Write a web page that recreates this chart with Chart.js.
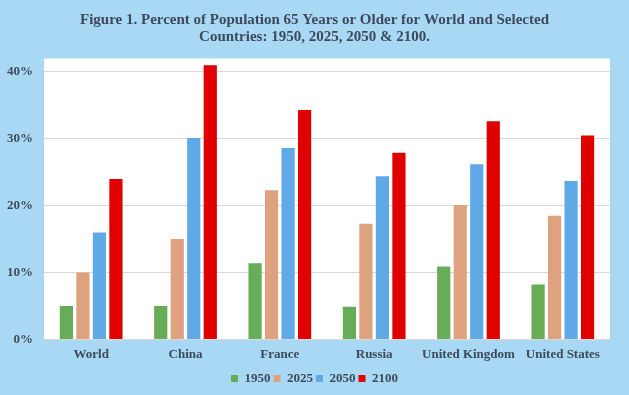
<!DOCTYPE html>
<html>
<head>
<meta charset="utf-8">
<script src="https://cdn.jsdelivr.net/npm/chart.js@4.4.0/dist/chart.umd.min.js"></script>
<style>
	html, body { margin: 0; padding: 0; background: #a9d8f4; }
	#wrap { width: 629px; height: 395px; }
</style>
</head>
<body>
<div id="wrap"><canvas id="agingChart"></canvas></div>
<script>
const countries = ['World', 'China', 'France', 'Russia', 'United Kingdom', 'United States'];
const years = ['1950', '2025', '2050', '2100'];
const pct1950 = [5.0, 5.0, 11.4, 4.9, 10.9, 8.2];
const pct2025 = [10.0, 15.0, 22.3, 17.3, 20.1, 18.5];
const pct2050 = [16.0, 30.1, 28.6, 24.4, 26.2, 23.7];
const pct2100 = [24.0, 41.0, 34.3, 27.9, 32.6, 30.5];
const yTicks = [0, 10, 20, 30, 40];

const seriesColors = ['#67ac57', '#dfa27f', '#5fa9e6', '#e00000'];
const textColor = '#3d4a5c';
const serif = "'Liberation Serif', 'Times New Roman', serif";

// blue page, white plot panel
const panelBg = {
	id: 'panelBg',
	beforeDraw(chart) {
		const { ctx, chartArea } = chart;
		ctx.save();
		ctx.fillStyle = '#a9d8f4';
		ctx.fillRect(0, 0, chart.width, chart.height);
		ctx.fillStyle = '#ffffff';
		ctx.fillRect(chartArea.left, chartArea.top, chartArea.right - chartArea.left, chartArea.bottom - chartArea.top);
		ctx.restore();
	}
};

document.addEventListener('DOMContentLoaded', () => {
	const canvas = document.getElementById('agingChart');
	const allSeries = [pct1950, pct2025, pct2050, pct2100];

	new Chart(canvas.getContext('2d'), {
		type: 'bar',
		data: {
			labels: countries,
			datasets: years.map((y, i) => ({
				label: y,
				data: allSeries[i],
				backgroundColor: seriesColors[i],
				borderWidth: 0,
				categoryPercentage: 0.7,
				barPercentage: 0.8
			}))
		},
		options: {
			responsive: true,
			maintainAspectRatio: false,
			animation: false,
			layout: { padding: { top: 0, right: 0, bottom: 0, left: 0 } },
			scales: {
				x: {
					grid: { display: false, drawTicks: false },
					border: { display: false },
					ticks: {
						color: textColor,
						padding: 7,
						maxRotation: 0,
						autoSkip: false,
						font: { family: serif, size: 13, weight: 'bold' }
					}
				},
				y: {
					min: 0,
					max: 42,
					afterFit: (scale) => { scale.width = 44; },
					afterBuildTicks: (scale) => { scale.ticks = yTicks.map(v => ({ value: v })); },
					grid: { color: '#d9d9d9', drawTicks: false },
					border: { display: false },
					ticks: {
						color: textColor,
						padding: 11,
						callback: v => v + '%',
						font: { family: serif, size: 13, weight: 'bold' }
					}
				},
				// empty right strip so the panel stops short of the edge
				yRight: {
					position: 'right',
					afterFit: (scale) => { scale.width = 19; },
					grid: { display: false, drawTicks: false },
					border: { display: false },
					ticks: { display: false }
				}
			},
			plugins: {
				title: {
					display: true,
					text: ['Figure 1. Percent of Population 65 Years or Older for World and Selected', 'Countries: 1950, 2025, 2050 & 2100.'],
					color: textColor,
					font: { family: serif, size: 15, weight: 'bold', lineHeight: 1.15 },
					padding: { top: 11, bottom: 13 }
				},
				legend: {
					position: 'bottom',
					labels: {
						color: textColor,
						boxWidth: 7,
						boxHeight: 7,
						padding: 3,
						font: { family: serif, size: 13, weight: 'bold' }
					}
				},
				tooltip: { enabled: false }
			}
		},
		plugins: [panelBg]
	});
});
</script>
</body>
</html>
